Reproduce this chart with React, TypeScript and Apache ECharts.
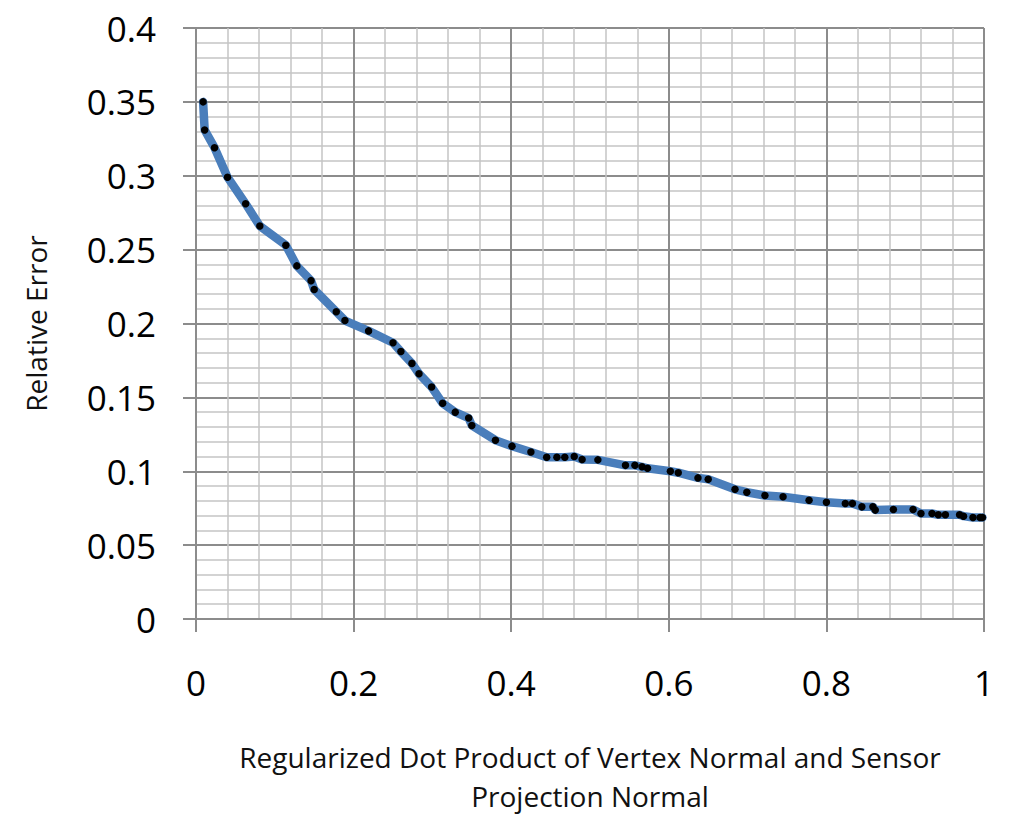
import { useEffect, useRef } from 'react';
import * as echarts from 'echarts';

// regularized dot product (x) and relative error (y)
const dotProduct = [
  0.009, 0.011, 0.0235, 0.04, 0.063, 0.081, 0.114, 0.128, 0.146, 0.15,
  0.178, 0.189, 0.219, 0.25, 0.26, 0.274, 0.283, 0.299, 0.313, 0.329,
  0.346, 0.35, 0.38, 0.401, 0.425, 0.445, 0.458, 0.468, 0.48, 0.49,
  0.51, 0.545, 0.557, 0.566, 0.573, 0.602, 0.612, 0.637, 0.65, 0.684,
  0.699, 0.722, 0.745, 0.778, 0.8, 0.824, 0.833, 0.845, 0.859, 0.862,
  0.885, 0.91, 0.92, 0.934, 0.942, 0.951, 0.969, 0.974, 0.986, 0.995,
  0.998
];
const relativeError = [
  0.35, 0.331, 0.319, 0.299, 0.281, 0.266, 0.253, 0.239, 0.229, 0.223,
  0.208, 0.202, 0.195, 0.187, 0.181, 0.173, 0.166, 0.157, 0.146, 0.14,
  0.136, 0.131, 0.121, 0.117, 0.113, 0.1095, 0.1095, 0.1095, 0.11, 0.108,
  0.1077, 0.104, 0.104, 0.103, 0.102, 0.1, 0.099, 0.0955, 0.0946, 0.0878,
  0.0858, 0.0836, 0.0827, 0.0804, 0.079, 0.0782, 0.0782, 0.0759, 0.0759, 0.0737,
  0.0741, 0.0741, 0.0714, 0.0714, 0.0705, 0.0705, 0.0705, 0.0696, 0.0687, 0.0687,
  0.0687
];

const xName = 'Regularized Dot Product of Vertex Normal and Sensor\nProjection Normal';
const yName = 'Relative Error';

const FONT = '"Open Sans", sans-serif';
const MAJOR = '#8c8c8c';
const MINOR = '#c4c4c4';

export default function App() {
  const chartRef = useRef<HTMLDivElement>(null);

  useEffect(() => {
    if (!chartRef.current) return;
    const myChart = echarts.init(chartRef.current, null, { renderer: 'svg' });

    const points = dotProduct.map((x, i) => [x, relativeError[i]]);

    const option = {
      animation: false,
      backgroundColor: '#fff',
      grid: { left: 196, right: 40, top: 28, bottom: 215 },
      xAxis: {
        type: 'value',
        min: 0,
        max: 1,
        interval: 0.2,
        name: xName,
        nameLocation: 'middle',
        nameGap: 118,
        nameTextStyle: { fontFamily: FONT, fontSize: 28, color: '#111', lineHeight: 39 },
        axisLine: { show: true, lineStyle: { color: MAJOR, width: 2 } },
        axisTick: { show: true, inside: false, length: 13, lineStyle: { color: MAJOR, width: 2 } },
        axisLabel: { fontFamily: FONT, fontSize: 35, color: '#000', margin: 46 },
        splitLine: { show: true, lineStyle: { color: MAJOR, width: 2 } },
        minorTick: { show: false, splitNumber: 5 },
        minorSplitLine: { show: true, lineStyle: { color: MINOR, width: 1.5 } }
      },
      yAxis: {
        type: 'value',
        min: 0,
        max: 0.4,
        interval: 0.05,
        name: yName,
        nameLocation: 'middle',
        nameRotate: 90,
        nameGap: 146,
        nameTextStyle: { fontFamily: FONT, fontSize: 28, color: '#111' },
        axisLine: { show: true, lineStyle: { color: MAJOR, width: 2 } },
        axisTick: { show: true, inside: false, length: 13, lineStyle: { color: MAJOR, width: 2 } },
        axisLabel: { fontFamily: FONT, fontSize: 35, color: '#000', margin: 40 },
        splitLine: { show: true, lineStyle: { color: MAJOR, width: 2 } },
        minorTick: { show: false, splitNumber: 5 },
        minorSplitLine: { show: true, lineStyle: { color: MINOR, width: 1.5 } }
      },
      series: [
        {
          type: 'line',
          data: points,
          smooth: false,
          lineStyle: { color: '#4a7ebb', width: 8.5, join: 'round', cap: 'round' },
          symbol: 'circle',
          symbolSize: 7.5,
          itemStyle: { color: '#000', borderWidth: 0 }
        }
      ]
    };

    myChart.setOption(option);

    return () => {
      myChart.dispose();
    };
  }, []);

  return (
    <div
      ref={chartRef}
      style={{ position: 'absolute', left: 0, top: 0, width: 1024, height: 834 }}
    />
  );
}
